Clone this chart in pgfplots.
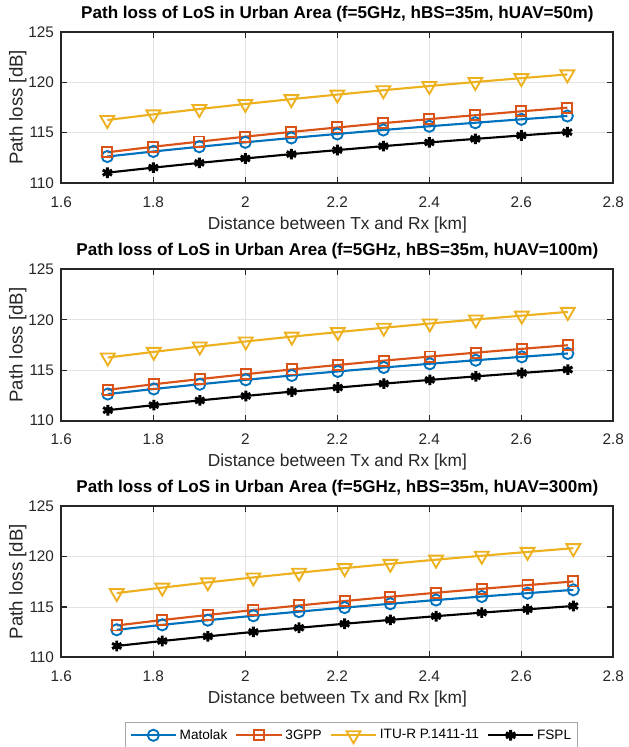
\documentclass[border=0pt]{standalone}
\usepackage{pgfplots}
\pgfplotsset{compat=1.18}
\usepackage{fontspec}
\setmainfont{Liberation Sans}
\definecolor{mblue}{rgb}{0,0.447,0.741}
\definecolor{morange}{rgb}{0.85,0.325,0.098}
\definecolor{myellow}{rgb}{0.929,0.694,0.125}
\definecolor{mtext}{rgb}{0.15,0.15,0.15}
\pgfplotsset{
  matstyle/.style={
    scale only axis, width=414pt, height=113.5pt,
    xmin=1.6, xmax=2.8, ymin=110, ymax=125,
    xtick={1.6,1.8,...,2.8}, ytick={110,115,120,125},
    xticklabels={1.6,1.8,2,2.2,2.4,2.6,2.8},
    grid=major, major grid style={gray!22, line width=0.5pt},
    axis line style={black!85, line width=1.4pt},
    tick align=inside, tick style={black!85, line width=1pt}, major tick length=4.5pt,
    /pgf/number format/assume math mode=true,
    tick label style={font=\fontsize{11.5}{13}\selectfont, text=mtext},
    xticklabel style={yshift=-6.5pt},
    yticklabel style={xshift=-2pt},
    xlabel={Distance between Tx and Rx [km]},
    ylabel={Path loss [dB]},
    xlabel style={font=\fontsize{13}{15}\selectfont, text=mtext, yshift=0pt},
    ylabel style={font=\fontsize{14}{16}\selectfont, text=mtext, yshift=-5.5pt},
    title style={font=\bfseries\fontsize{12.8}{15}\selectfont, yshift=-2pt},
    every axis plot/.append style={line width=1.6pt},
  },
  mato/.style={mblue, mark=o, mark size=4.2pt, mark options={line width=1.4pt}},
  tgpp/.style={morange, mark=square, mark size=3.8pt, mark options={line width=1.4pt}},
  itu/.style={myellow, mark=triangle, mark size=6pt, mark options={rotate=180, line width=1.4pt}},
  fspl/.style={black, mark=asterisk, mark size=4pt, mark options={line width=2.2pt}},
}
\begin{document}
\begin{tikzpicture}
\path[use as bounding box] (0pt,0pt) rectangle (471.75pt,-560.25pt);

% --- plot 1 ---
\begin{axis}[matstyle, at={(46pt,-23.8pt)}, anchor=north west,
  title={Path loss of LoS in Urban Area (f=5GHz, hBS=35m, hUAV=50m)}]
\addplot[mato] coordinates {(1.7,112.63)(1.8,113.13)(1.9,113.60)(2.0,114.04)(2.1,114.47)(2.2,114.87)(2.3,115.26)(2.4,115.63)(2.5,115.98)(2.6,116.32)(2.7,116.65)};
\addplot[tgpp] coordinates {(1.7,113.05)(1.8,113.60)(1.9,114.11)(2.0,114.60)(2.1,115.07)(2.2,115.51)(2.3,115.94)(2.4,116.34)(2.5,116.73)(2.6,117.11)(2.7,117.47)};
\addplot[itu] coordinates {(1.7,116.25)(1.8,116.81)(1.9,117.34)(2.0,117.84)(2.1,118.32)(2.2,118.77)(2.3,119.20)(2.4,119.62)(2.5,120.02)(2.6,120.40)(2.7,120.77)};
\addplot[fspl] coordinates {(1.7,111.03)(1.8,111.53)(1.9,112.00)(2.0,112.44)(2.1,112.87)(2.2,113.27)(2.3,113.66)(2.4,114.03)(2.5,114.38)(2.6,114.72)(2.7,115.05)};
\end{axis}

% --- plot 2 ---
\begin{axis}[matstyle, at={(46pt,-202pt)}, anchor=north west,
  title={Path loss of LoS in Urban Area (f=5GHz, hBS=35m, hUAV=100m)}]
\addplot[mato] coordinates {(1.701,112.64)(1.801,113.14)(1.901,113.61)(2.001,114.05)(2.101,114.48)(2.201,114.88)(2.301,115.27)(2.401,115.64)(2.501,115.99)(2.601,116.33)(2.701,116.66)};
\addplot[tgpp] coordinates {(1.701,113.06)(1.801,113.61)(1.901,114.12)(2.001,114.61)(2.101,115.08)(2.201,115.52)(2.301,115.95)(2.401,116.35)(2.501,116.74)(2.601,117.12)(2.701,117.48)};
\addplot[itu] coordinates {(1.701,116.26)(1.801,116.82)(1.901,117.35)(2.001,117.85)(2.101,118.33)(2.201,118.78)(2.301,119.21)(2.401,119.63)(2.501,120.03)(2.601,120.41)(2.701,120.78)};
\addplot[fspl] coordinates {(1.701,111.04)(1.801,111.54)(1.901,112.01)(2.001,112.45)(2.101,112.88)(2.201,113.28)(2.301,113.67)(2.401,114.04)(2.501,114.39)(2.601,114.73)(2.701,115.06)};
\end{axis}

% --- plot 3 ---
\begin{axis}[matstyle, at={(46pt,-379.5pt)}, anchor=north west,
  title={Path loss of LoS in Urban Area (f=5GHz, hBS=35m, hUAV=300m)},
  legend columns=4,
  legend style={at={(0.526,-0.515)}, anchor=center, draw=gray!70, line width=0.6pt,
    font=\fontsize{10.2}{12}\selectfont, text=black, inner ysep=3pt,
    /tikz/every even column/.append style={column sep=4pt}},
  legend image code/.code={\draw[mark repeat=2,mark phase=2,#1] plot coordinates {(0pt,0pt) (17pt,0pt) (34pt,0pt)};},
  legend cell align=left]
\addplot[mato] coordinates {(1.7205,112.73)(1.8194,113.22)(1.9184,113.68)(2.0175,114.12)(2.1167,114.53)(2.2159,114.93)(2.3152,115.31)(2.4146,115.68)(2.5140,116.03)(2.6135,116.36)(2.7130,116.69)};
\addlegendentry{Matolak}
\addplot[tgpp] coordinates {(1.7205,113.16)(1.8194,113.70)(1.9184,114.20)(2.0175,114.69)(2.1167,115.14)(2.2159,115.58)(2.3152,116.00)(2.4146,116.40)(2.5140,116.79)(2.6135,117.16)(2.7130,117.52)};
\addlegendentry{3GPP}
\addplot[itu] coordinates {(1.7205,116.37)(1.8194,116.91)(1.9184,117.43)(2.0175,117.92)(2.1167,118.39)(2.2159,118.84)(2.3152,119.27)(2.4146,119.68)(2.5140,120.07)(2.6135,120.45)(2.7130,120.82)};
\addlegendentry{ITU-R P.1411-11}
\addplot[fspl] coordinates {(1.7205,111.13)(1.8194,111.62)(1.9184,112.08)(2.0175,112.52)(2.1167,112.93)(2.2159,113.33)(2.3152,113.71)(2.4146,114.08)(2.5140,114.43)(2.6135,114.76)(2.7130,115.09)};
\addlegendentry{FSPL}
\end{axis}
\end{tikzpicture}
\end{document}
